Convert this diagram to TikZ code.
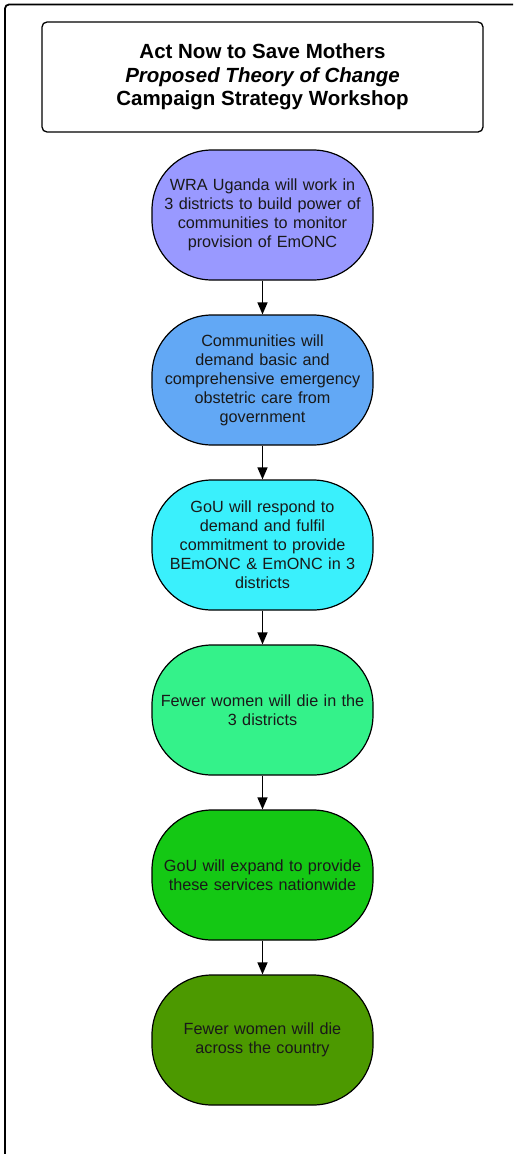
\documentclass[tikz,border=0pt]{standalone}
\usepackage{fontspec}
\setmainfont{Liberation Sans}
\usepackage{tikz}
\usetikzlibrary{arrows.meta}

\definecolor{wraA}{RGB}{153,153,255}
\definecolor{wraB}{RGB}{98,168,245}
\definecolor{wraC}{RGB}{58,240,252}
\definecolor{wraD}{RGB}{52,242,138}
\definecolor{wraE}{RGB}{20,200,20}
\definecolor{wraF}{RGB}{76,153,0}

\begin{document}
\begin{tikzpicture}[x=1pt,y=-1pt,
  stepbox/.style={draw,line width=1.2pt,rounded corners=60pt,minimum width=221pt,minimum height=130pt,
    text width=205pt,align=center,inner sep=0pt,text=black!90,font=\fontsize{16.2}{19}\selectfont},
  titlebox/.style={draw,line width=1.3pt,rounded corners=5pt,minimum width=441pt,minimum height=110pt,
    align=center,inner sep=0pt,font=\fontsize{20.5}{23.5}\selectfont\bfseries},
  flow/.style={line width=1.3pt,-{Triangle[width=10pt,length=12pt]}}]
\useasboundingbox (0,0) rectangle (516,1154);
\draw[line width=1.8pt,rounded corners=4pt] (513,4.5) -- (5,4.5) -- (5,1160);
\node[titlebox] (title) at (262.5,77) {Act Now to Save Mothers\\\textit{Proposed Theory of Change}\\Campaign Strategy Workshop};
\foreach \txt/\col [count=\i] in {
  {WRA Uganda will work in\\3 districts to build power of\\communities to monitor\\provision of EmONC}/wraA,
  {Communities will\\demand basic and\\comprehensive emergency\\obstetric care from\\government}/wraB,
  {GoU will respond to\\demand and fulfil\\commitment to provide\\BEmONC \& EmONC in 3\\districts}/wraC,
  {Fewer women will die in the\\3 districts}/wraD,
  {GoU will expand to provide\\these services nationwide}/wraE,
  {Fewer women will die\\across the country}/wraF}{
  \node[stepbox,fill=\col] (n\i) at (262.5,{215+165*(\i-1)}) {\txt};
}
\foreach \a/\b in {1/2,2/3,3/4,4/5,5/6}
  \draw[flow] (n\a) -- (n\b);
\end{tikzpicture}
\end{document}
